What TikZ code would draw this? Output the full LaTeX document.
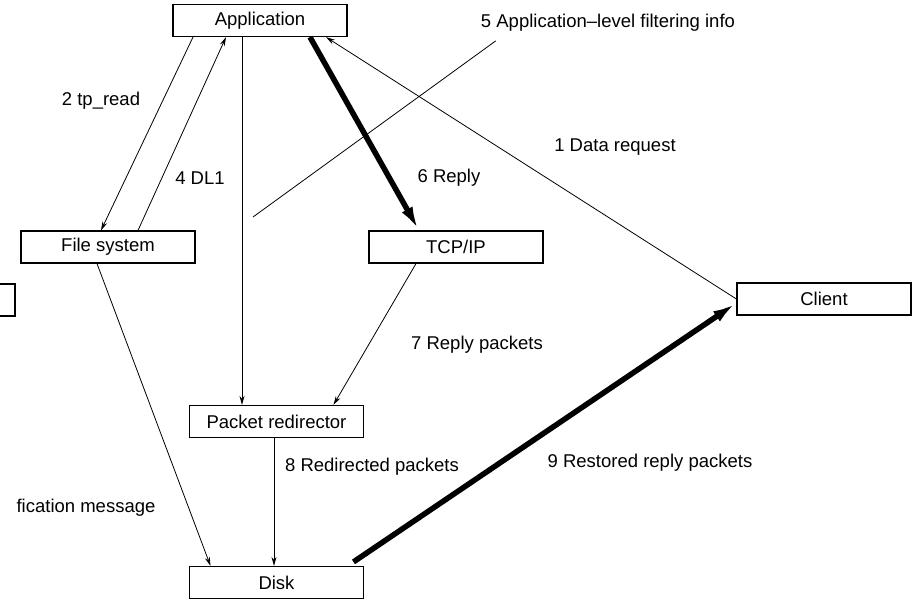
\documentclass[tikz,border=0pt]{standalone}
\usepackage{fontspec}
\setmainfont{Liberation Sans}
\usetikzlibrary{arrows.meta}

\tikzset{
  box/.style={draw, line width=1.2pt, minimum width=174pt, minimum height=32pt, inner sep=0pt, font=\fontsize{18.5}{20}\selectfont},
  lbl/.style={inner sep=0pt, font=\fontsize{18.5}{20}\selectfont},
  flow/.style={line width=0.8pt, -{Stealth[length=9pt,width=5pt]}},
  bulk/.style={line width=5.5pt, -{Latex[length=24pt,width=12pt]}}
}

\begin{document}
\begin{tikzpicture}[x=1pt, y=-1pt]
\useasboundingbox (0,0) rectangle (913,600);
\fill[white] (0,0) rectangle (913,600);
\clip (0,0) rectangle (913,600);

% the boxes
\node[box] (app) at (260,20.5) {Application};
\node[box] (fs) at (108,247) {File system};
\node[box] (tcp) at (456,247) {TCP/IP};
\node[box] (client) at (824,299) {Client};
\node[box] (pr) at (276.5,421.5) {Packet redirector};
\node[box] (disk) at (276.5,582.5) {Disk};
\node[box] (notify) at (-72,300) {}; % cut off at the left

% labels
\node[lbl] (l1) at (615,147) {1 Data request};
\node[lbl] (l2) at (101,101) {2 tp\_read};
\node[lbl] (l4) at (200,178) {4 DL1};
\node[lbl] (filt) at (608,23) {5 Application–level filtering info};
\node[lbl] (l6) at (449,178) {6 Reply};
\node[lbl] (l7) at (477,345) {7 Reply packets};
\node[lbl] (l8) at (372,467) {8 Redirected packets};
\node[lbl] (l9) at (650,463) {9 Restored reply packets};
\node[lbl] (lmsg) at (86,508) {fication message};

% connectors
\draw[flow] (client.west) -- ([xshift=66pt]app.south);
\draw[flow] ([xshift=-67pt]app.south) -- ([xshift=-7pt]fs.north);
\draw[flow] ([xshift=30pt]fs.north) -- ([xshift=-34pt]app.south);
\draw[flow] ([xshift=-18pt]app.south) -- ([xshift=-18pt]app.south |- pr.north);
\draw[bulk] ([xshift=50pt]app.south) -- ([xshift=-37pt]tcp.north);
\draw[flow] ([xshift=-40pt]tcp.south) -- ([xshift=57pt]pr.north);
\draw[flow] ([xshift=-11pt]fs.south) -- ([xshift=-66pt]disk.north);
\draw[flow] ([xshift=-2.5pt]pr.south) -- ([xshift=-2.5pt]pr.south |- disk.north);
\draw[bulk] ([xshift=77pt,yshift=4pt]disk.north) -- ([yshift=-4pt]client.west);

% leader of label 5
\coordinate (lead) at (253,217);
\draw[line width=0.8pt] ([xshift=15pt,yshift=-9pt]filt.south west) -- (lead);

\end{tikzpicture}
\end{document}
